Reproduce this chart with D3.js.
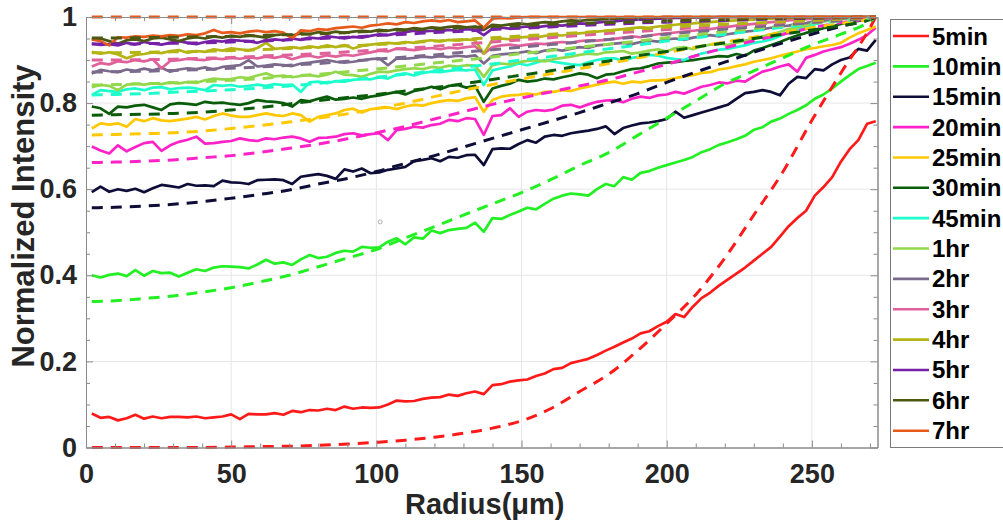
<!DOCTYPE html>
<html>
<head>
<meta charset="utf-8">
<script src="https://cdn.jsdelivr.net/npm/d3@7"></script>
<style>
  html, body { margin: 0; padding: 0; background: #fff; }
  svg { display: block; font-family: "Liberation Sans", Arial, sans-serif; }
</style>
</head>
<body>
<svg id="chart" width="1003" height="522"></svg>
<script>
// Radial sampling positions (µm) of the measured profiles
const radius = [2,5,8,11,14,17,20,23,26,29,32,35,38,41,44,47,50,53,56,59,62,65,68,71,74,77,80,83,86,89,
  92,95,98,101,104,107,110,113,116,119,122,125,128,131,134,137,140,143,146,149,152,155,158,161,164,167,170,173,176,179,
  182,185,188,191,194,197,200,203,206,209,212,215,218,221,224,227,230,233,236,239,242,245,248,251,254,257,260,263,266,269,272];

// Radial positions (µm) of the fitted model curves
const fitRadius = [2,10,20,30,40,50,60,70,80,90,100,110,120,130,140,150,160,170,180,190,200,210,220,230,240,250,260,270,272];

const seriesNames = ["5min","10min","15min","20min","25min","30min","45min","1hr","2hr","3hr","4hr","5hr","6hr","7hr"];
const seriesColors = ["#ff1a1a","#22f022","#0d0d38","#ff22c8","#ffc800","#0a5c0a","#1cffcc","#92d84a","#7c6a8c","#e0609a","#b4b414","#7620a8","#4c5712","#e85a1c"];

// Measured normalized intensity profiles
const m5min = [0.079,0.069,0.071,0.063,0.068,0.076,0.067,0.072,0.068,0.071,0.071,0.070,0.072,0.068,0.070,0.072,0.077,0.066,0.078,0.077,
  0.077,0.080,0.076,0.085,0.082,0.087,0.086,0.090,0.087,0.095,0.090,0.093,0.092,0.093,0.100,0.109,0.107,0.108,0.113,0.116,
  0.117,0.123,0.120,0.126,0.130,0.124,0.145,0.147,0.153,0.156,0.158,0.166,0.172,0.182,0.185,0.196,0.201,0.206,0.215,0.225,
  0.234,0.244,0.253,0.265,0.270,0.282,0.292,0.310,0.303,0.327,0.347,0.360,0.376,0.390,0.404,0.418,0.434,0.450,0.466,0.490,
  0.514,0.533,0.550,0.585,0.605,0.628,0.664,0.693,0.714,0.752,0.758];
const m10min = [0.400,0.395,0.401,0.404,0.398,0.412,0.399,0.410,0.405,0.406,0.397,0.406,0.414,0.410,0.418,0.421,0.420,0.419,0.416,0.425,
  0.436,0.427,0.430,0.424,0.437,0.447,0.440,0.443,0.452,0.457,0.455,0.466,0.464,0.465,0.478,0.486,0.472,0.488,0.485,0.504,
  0.498,0.505,0.508,0.510,0.522,0.501,0.533,0.531,0.540,0.548,0.557,0.553,0.566,0.578,0.585,0.590,0.588,0.585,0.600,0.612,
  0.607,0.628,0.622,0.638,0.642,0.650,0.656,0.662,0.668,0.675,0.686,0.693,0.703,0.709,0.716,0.724,0.738,0.744,0.757,0.764,
  0.775,0.784,0.795,0.810,0.820,0.834,0.850,0.865,0.879,0.886,0.894];
const m15min = [0.593,0.606,0.594,0.600,0.596,0.601,0.593,0.602,0.610,0.607,0.604,0.612,0.608,0.609,0.607,0.620,0.616,0.615,0.612,0.621,
  0.622,0.623,0.621,0.612,0.629,0.632,0.635,0.631,0.624,0.646,0.641,0.648,0.637,0.639,0.645,0.648,0.652,0.665,0.668,0.672,
  0.665,0.675,0.673,0.679,0.680,0.656,0.693,0.695,0.694,0.705,0.714,0.708,0.722,0.726,0.724,0.730,0.733,0.736,0.740,0.746,
  0.728,0.742,0.748,0.753,0.755,0.758,0.763,0.780,0.766,0.772,0.778,0.784,0.790,0.796,0.810,0.823,0.826,0.830,0.826,0.818,
  0.845,0.861,0.858,0.879,0.876,0.890,0.900,0.906,0.926,0.922,0.947];
const m20min = [0.699,0.690,0.683,0.702,0.688,0.698,0.707,0.710,0.689,0.702,0.710,0.715,0.722,0.706,0.707,0.710,0.712,0.718,0.714,0.712,
  0.718,0.716,0.720,0.722,0.718,0.710,0.719,0.720,0.722,0.728,0.730,0.725,0.728,0.730,0.714,0.737,0.740,0.745,0.743,0.749,
  0.752,0.761,0.758,0.765,0.763,0.726,0.770,0.772,0.788,0.768,0.780,0.784,0.782,0.785,0.794,0.796,0.790,0.797,0.803,0.806,
  0.807,0.802,0.810,0.815,0.812,0.818,0.820,0.826,0.822,0.830,0.838,0.842,0.848,0.846,0.852,0.850,0.862,0.873,0.878,0.885,
  0.890,0.873,0.905,0.912,0.920,0.925,0.930,0.938,0.947,0.958,0.975];
const m25min = [0.741,0.753,0.750,0.753,0.745,0.763,0.758,0.765,0.760,0.758,0.761,0.764,0.768,0.762,0.770,0.776,0.771,0.768,0.768,0.772,
  0.776,0.772,0.770,0.776,0.772,0.757,0.768,0.772,0.776,0.784,0.787,0.778,0.786,0.788,0.790,0.786,0.792,0.796,0.794,0.800,
  0.804,0.807,0.805,0.811,0.814,0.780,0.807,0.815,0.818,0.819,0.822,0.820,0.826,0.826,0.830,0.828,0.834,0.838,0.843,0.847,
  0.850,0.845,0.850,0.848,0.852,0.853,0.854,0.858,0.862,0.865,0.870,0.872,0.878,0.881,0.886,0.890,0.896,0.900,0.904,0.910,
  0.915,0.920,0.925,0.928,0.932,0.935,0.940,0.952,0.962,0.970,0.978];
const m30min = [0.792,0.788,0.775,0.792,0.790,0.794,0.796,0.790,0.784,0.797,0.800,0.798,0.796,0.803,0.800,0.801,0.798,0.796,0.800,0.807,
  0.804,0.803,0.800,0.792,0.807,0.804,0.810,0.815,0.808,0.810,0.813,0.810,0.815,0.818,0.822,0.826,0.820,0.828,0.832,0.838,
  0.832,0.840,0.842,0.836,0.840,0.803,0.834,0.840,0.845,0.854,0.850,0.852,0.857,0.855,0.860,0.864,0.869,0.866,0.858,0.866,
  0.868,0.874,0.879,0.881,0.886,0.892,0.894,0.895,0.898,0.900,0.903,0.906,0.909,0.908,0.914,0.910,0.922,0.928,0.935,0.942,
  0.950,0.957,0.963,0.968,0.974,0.978,0.984,0.988,0.991,0.994,0.997];
const m45min = [0.819,0.830,0.828,0.826,0.832,0.834,0.830,0.836,0.837,0.832,0.835,0.836,0.834,0.830,0.842,0.840,0.842,0.838,0.840,0.843,
  0.840,0.844,0.842,0.843,0.826,0.848,0.850,0.846,0.851,0.850,0.854,0.856,0.855,0.860,0.857,0.866,0.869,0.864,0.870,0.873,
  0.872,0.875,0.877,0.876,0.878,0.842,0.876,0.881,0.885,0.892,0.888,0.894,0.900,0.896,0.893,0.890,0.888,0.895,0.900,0.904,
  0.904,0.898,0.905,0.908,0.912,0.910,0.905,0.902,0.900,0.908,0.915,0.920,0.924,0.926,0.930,0.934,0.940,0.943,0.948,0.956,
  0.965,0.972,0.978,0.983,0.990,0.993,0.996,0.997,0.998,0.999,1.000];
const m1hr = [0.837,0.842,0.840,0.830,0.843,0.845,0.843,0.846,0.844,0.848,0.846,0.849,0.847,0.853,0.857,0.855,0.856,0.860,0.858,0.864,
  0.869,0.862,0.864,0.860,0.863,0.865,0.862,0.866,0.873,0.866,0.865,0.861,0.868,0.873,0.872,0.876,0.879,0.881,0.879,0.884,
  0.882,0.887,0.885,0.888,0.887,0.861,0.888,0.892,0.890,0.895,0.898,0.900,0.897,0.902,0.905,0.908,0.912,0.915,0.913,0.918,
  0.919,0.921,0.915,0.918,0.922,0.925,0.920,0.928,0.930,0.925,0.932,0.936,0.938,0.935,0.940,0.945,0.950,0.955,0.960,0.965,
  0.972,0.976,0.981,0.985,0.990,0.993,0.996,0.998,0.999,0.999,1.000];
const m2hr = [0.869,0.877,0.874,0.872,0.878,0.875,0.880,0.876,0.882,0.873,0.878,0.881,0.879,0.883,0.878,0.884,0.886,0.888,0.900,0.885,
  0.887,0.890,0.888,0.886,0.892,0.894,0.897,0.900,0.896,0.894,0.896,0.899,0.902,0.904,0.888,0.904,0.903,0.905,0.908,0.906,
  0.909,0.907,0.910,0.908,0.911,0.892,0.910,0.913,0.915,0.917,0.920,0.916,0.922,0.925,0.922,0.926,0.930,0.928,0.934,0.936,
  0.938,0.940,0.937,0.942,0.945,0.943,0.948,0.950,0.947,0.952,0.955,0.958,0.955,0.960,0.963,0.966,0.968,0.972,0.975,0.978,
  0.980,0.984,0.986,0.990,0.992,0.995,0.997,0.998,0.999,0.999,1.000];
const m3hr = [0.885,0.893,0.890,0.897,0.895,0.900,0.897,0.902,0.881,0.898,0.900,0.903,0.901,0.900,0.904,0.902,0.905,0.903,0.906,0.904,
  0.908,0.905,0.909,0.902,0.908,0.910,0.906,0.911,0.908,0.912,0.910,0.914,0.918,0.922,0.920,0.927,0.925,0.923,0.926,0.928,
  0.925,0.929,0.927,0.930,0.932,0.915,0.930,0.934,0.936,0.933,0.936,0.938,0.937,0.940,0.942,0.940,0.944,0.946,0.945,0.947,
  0.949,0.952,0.955,0.953,0.957,0.960,0.962,0.964,0.966,0.968,0.970,0.972,0.975,0.977,0.980,0.982,0.984,0.986,0.988,0.990,
  0.992,0.994,0.995,0.996,0.997,0.998,0.999,0.999,1.000,1.000,1.000];
const m4hr = [0.919,0.915,0.918,0.913,0.904,0.912,0.914,0.918,0.916,0.921,0.923,0.917,0.921,0.919,0.925,0.922,0.927,0.925,0.922,0.928,
  0.940,0.926,0.928,0.930,0.927,0.932,0.929,0.934,0.930,0.935,0.927,0.933,0.936,0.938,0.940,0.938,0.942,0.940,0.944,0.946,
  0.943,0.947,0.945,0.948,0.946,0.915,0.948,0.950,0.948,0.952,0.954,0.952,0.956,0.958,0.957,0.960,0.962,0.964,0.966,0.968,
  0.970,0.972,0.974,0.976,0.975,0.978,0.980,0.982,0.984,0.985,0.987,0.988,0.990,0.991,0.992,0.993,0.994,0.995,0.996,0.997,
  0.998,0.998,0.999,0.999,1.000,1.000,1.000,1.000,1.000,1.000,1.000];
const m5hr = [0.938,0.935,0.937,0.934,0.940,0.936,0.942,0.938,0.936,0.940,0.944,0.940,0.937,0.942,0.945,0.943,0.947,0.945,0.944,0.940,
  0.946,0.948,0.946,0.950,0.947,0.952,0.950,0.955,0.953,0.950,0.954,0.952,0.956,0.960,0.958,0.962,0.965,0.968,0.966,0.968,
  0.967,0.970,0.968,0.972,0.970,0.958,0.973,0.975,0.973,0.976,0.978,0.976,0.979,0.981,0.980,0.983,0.985,0.984,0.987,0.989,
  0.990,0.992,0.993,0.994,0.995,0.996,0.997,0.998,0.998,0.999,0.999,0.999,1.000,1.000,1.000,1.000,1.000,1.000,1.000,1.000,
  1.000,1.000,1.000,1.000,1.000,1.000,1.000,1.000,1.000,1.000,1.000];
const m6hr = [0.948,0.950,0.944,0.938,0.946,0.948,0.944,0.950,0.952,0.948,0.944,0.950,0.953,0.950,0.955,0.952,0.956,0.954,0.958,0.955,
  0.952,0.958,0.960,0.957,0.962,0.960,0.965,0.962,0.966,0.963,0.966,0.968,0.966,0.970,0.968,0.972,0.970,0.974,0.972,0.976,
  0.974,0.977,0.979,0.976,0.978,0.970,0.982,0.980,0.983,0.985,0.983,0.986,0.988,0.987,0.990,0.992,0.991,0.993,0.994,0.995,
  0.996,0.997,0.998,0.998,0.999,0.999,1.000,1.000,1.000,1.000,1.000,1.000,1.000,1.000,1.000,1.000,1.000,1.000,1.000,1.000,
  1.000,1.000,1.000,1.000,1.000,1.000,1.000,1.000,1.000,1.000,1.000];
const m7hr = [0.948,0.944,0.934,0.953,0.952,0.955,0.954,0.957,0.955,0.958,0.956,0.960,0.958,0.962,0.970,0.963,0.965,0.962,0.966,0.968,
  0.965,0.967,0.964,0.950,0.969,0.967,0.972,0.970,0.974,0.976,0.978,0.975,0.980,0.982,0.985,0.983,0.988,0.986,0.990,0.992,
  0.990,0.993,0.988,0.990,0.992,0.975,0.996,0.998,0.997,0.999,1.000,1.000,1.000,1.000,1.000,1.000,1.000,1.000,1.000,1.000,
  1.000,1.000,1.000,1.000,1.000,1.000,1.000,1.000,1.000,1.000,1.000,1.000,1.000,1.000,1.000,1.000,1.000,1.000,1.000,1.000,
  1.000,1.000,1.000,1.000,1.000,1.000,1.000,1.000,1.000,1.000,1.000];

// Fitted model curves (dashed)
const f5min = [0.000,0.000,0.000,0.000,0.000,0.001,0.002,0.003,0.005,0.008,0.012,0.017,0.024,0.033,0.045,0.062,0.090,0.130,0.170,0.225,0.288,0.355,0.440,0.540,0.640,0.760,0.870,0.975,1.000];
const f10min = [0.339,0.341,0.346,0.352,0.361,0.371,0.385,0.400,0.420,0.440,0.460,0.487,0.513,0.540,0.566,0.592,0.622,0.655,0.685,0.725,0.765,0.805,0.845,0.875,0.905,0.935,0.960,0.990,1.000];
const f15min = [0.557,0.558,0.561,0.565,0.571,0.579,0.588,0.598,0.612,0.625,0.641,0.660,0.678,0.698,0.718,0.738,0.758,0.778,0.800,0.822,0.848,0.872,0.895,0.918,0.940,0.960,0.978,0.995,1.000];
const f20min = [0.662,0.663,0.665,0.668,0.673,0.678,0.686,0.695,0.705,0.717,0.731,0.746,0.763,0.780,0.797,0.812,0.826,0.840,0.854,0.872,0.890,0.910,0.928,0.945,0.960,0.975,0.987,0.997,1.000];
const f25min = [0.726,0.727,0.729,0.731,0.735,0.741,0.748,0.756,0.765,0.775,0.787,0.800,0.815,0.830,0.843,0.856,0.868,0.880,0.892,0.905,0.917,0.930,0.942,0.953,0.964,0.975,0.985,0.996,1.000];
const f30min = [0.772,0.773,0.774,0.776,0.779,0.784,0.790,0.798,0.806,0.813,0.820,0.828,0.836,0.845,0.855,0.865,0.875,0.887,0.898,0.910,0.920,0.930,0.940,0.950,0.960,0.970,0.980,0.994,1.000];
const f45min = [0.819,0.820,0.822,0.825,0.828,0.831,0.835,0.840,0.846,0.853,0.860,0.867,0.875,0.883,0.891,0.900,0.908,0.917,0.926,0.935,0.944,0.952,0.960,0.968,0.976,0.984,0.991,0.998,1.000];
const f1hr = [0.842,0.843,0.845,0.847,0.850,0.853,0.857,0.862,0.867,0.873,0.879,0.886,0.893,0.900,0.907,0.915,0.922,0.930,0.937,0.944,0.952,0.959,0.966,0.973,0.980,0.986,0.992,0.998,1.000];
const f2hr = [0.872,0.873,0.874,0.876,0.878,0.881,0.884,0.888,0.892,0.897,0.902,0.907,0.912,0.918,0.924,0.930,0.936,0.942,0.948,0.954,0.960,0.966,0.972,0.977,0.982,0.987,0.992,0.998,1.000];
const f3hr = [0.900,0.900,0.901,0.902,0.904,0.906,0.909,0.912,0.915,0.919,0.923,0.927,0.932,0.937,0.942,0.947,0.952,0.957,0.962,0.966,0.971,0.975,0.979,0.983,0.987,0.991,0.995,0.999,1.000];
const f4hr = [0.917,0.917,0.918,0.919,0.920,0.922,0.924,0.927,0.930,0.933,0.936,0.940,0.944,0.948,0.952,0.956,0.960,0.964,0.968,0.972,0.976,0.980,0.983,0.986,0.989,0.992,0.995,0.999,1.000];
const f5hr = [0.937,0.937,0.938,0.939,0.940,0.942,0.944,0.947,0.950,0.953,0.957,0.960,0.964,0.967,0.971,0.974,0.977,0.980,0.983,0.986,0.988,0.990,0.992,0.994,0.996,0.997,0.998,0.999,1.000];
const f6hr = [0.951,0.951,0.952,0.953,0.954,0.955,0.957,0.959,0.961,0.964,0.967,0.970,0.972,0.975,0.978,0.980,0.983,0.985,0.987,0.989,0.991,0.993,0.994,0.996,0.997,0.998,0.999,1.000,1.000];
const f7hr = [1,1,1,1,1,1,1,1,1,1,1,1,1,1,1,1,1,1,1,1,1,1,1,1,1,1,1,1,1];

const measured = [m5min,m10min,m15min,m20min,m25min,m30min,m45min,m1hr,m2hr,m3hr,m4hr,m5hr,m6hr,m7hr];
const fitted = [f5min,f10min,f15min,f20min,f25min,f30min,f45min,f1hr,f2hr,f3hr,f4hr,f5hr,f6hr,f7hr];

const xTicks = [0,50,100,150,200,250];
const yTicks = [0,0.2,0.4,0.6,0.8,1];
const yTickLabels = ["0","0.2","0.4","0.6","0.8","1"];
const xMinor = [10,20,30,40,60,70,80,90,110,120,130,140,160,170,180,190,210,220,230,240,260,270];
const yMinor = [0.05,0.1,0.15,0.25,0.3,0.35,0.45,0.5,0.55,0.65,0.7,0.75,0.85,0.9,0.95];
const strayMarker = [[101.3, 0.524]];

// Layout
const L = 86, R = 877.5, T = 17, B = 447.5;
const svg = d3.select("#chart");
const x = d3.scaleLinear().domain([0, 272.6]).range([L, R]);
const y = d3.scaleLinear().domain([0, 1]).range([B, T]);
const axisGrey = "#8a8a8a";
const textDark = "#262626";

// Grid
const grid = svg.append("g");
grid.selectAll("line.gx").data(xTicks.slice(1)).join("line")
  .attr("x1", d => x(d)).attr("x2", d => x(d)).attr("y1", T).attr("y2", B)
  .attr("stroke", "#e6e6e6").attr("stroke-width", 1);
grid.selectAll("line.gy").data(yTicks.slice(1, -1)).join("line")
  .attr("x1", L).attr("x2", R).attr("y1", d => y(d)).attr("y2", d => y(d))
  .attr("stroke", "#e6e6e6").attr("stroke-width", 1);

// Clip region (slightly padded so lines at the limit keep full width)
svg.append("clipPath").attr("id", "plotClip").append("rect")
  .attr("x", L).attr("y", T - 3).attr("width", R - L).attr("height", B - T + 6);

const plot = svg.append("g").attr("clip-path", "url(#plotClip)");
const lineMeasured = d3.line().x((d, i) => x(radius[i])).y(d => y(d));
const lineFit = d3.line().x((d, i) => x(fitRadius[i])).y(d => y(d)).curve(d3.curveMonotoneX);

measured.forEach((s, k) => {
  plot.append("path").datum(s).attr("d", lineMeasured)
    .attr("fill", "none").attr("stroke", seriesColors[k]).attr("stroke-width", 2.7)
    .attr("stroke-linejoin", "round");
});
fitted.forEach((s, k) => {
  plot.append("path").datum(s).attr("d", lineFit)
    .attr("fill", "none").attr("stroke", seriesColors[k]).attr("stroke-width", 3)
    .attr("stroke-dasharray", "11,8");
});

plot.selectAll("circle.stray").data(strayMarker).join("circle")
  .attr("cx", d => x(d[0])).attr("cy", d => y(d[1])).attr("r", 2)
  .attr("fill", "none").attr("stroke", "#9a9aa8").attr("stroke-width", 0.8);

// Axes with inward ticks on all four sides
function styleAxis(g) {
  g.select(".domain").attr("stroke", axisGrey).attr("stroke-width", 1);
  g.selectAll(".tick line").attr("stroke", axisGrey).attr("stroke-width", 1);
}
const fmtNone = () => "";

svg.append("g").attr("transform", `translate(0,${B})`)
  .call(d3.axisBottom(x).tickValues(xMinor).tickSizeInner(-4).tickSizeOuter(0).tickFormat(fmtNone)).call(styleAxis);
svg.append("g").attr("transform", `translate(0,${T})`)
  .call(d3.axisTop(x).tickValues(xMinor).tickSizeInner(-4).tickSizeOuter(0).tickFormat(fmtNone)).call(styleAxis);
svg.append("g").attr("transform", `translate(${L},0)`)
  .call(d3.axisLeft(y).tickValues(yMinor).tickSizeInner(-4).tickSizeOuter(0).tickFormat(fmtNone)).call(styleAxis);
svg.append("g").attr("transform", `translate(${R},0)`)
  .call(d3.axisRight(y).tickValues(yMinor).tickSizeInner(-4).tickSizeOuter(0).tickFormat(fmtNone)).call(styleAxis);

svg.append("g").attr("transform", `translate(0,${T})`)
  .call(d3.axisTop(x).tickValues(xTicks).tickSizeInner(-7).tickSizeOuter(0).tickFormat(fmtNone)).call(styleAxis);
svg.append("g").attr("transform", `translate(${R},0)`)
  .call(d3.axisRight(y).tickValues(yTicks).tickSizeInner(-7).tickSizeOuter(0).tickFormat(fmtNone)).call(styleAxis);

const xAxis = svg.append("g").attr("transform", `translate(0,${B})`)
  .call(d3.axisBottom(x).tickValues(xTicks).tickSizeInner(-7).tickSizeOuter(0).tickPadding(16).tickFormat(d3.format("d")))
  .call(styleAxis);
xAxis.selectAll(".tick text").attr("fill", textDark).attr("font-size", 27).attr("font-weight", "bold")
  .attr("font-family", "'Liberation Sans', Arial, sans-serif");

const yAxis = svg.append("g").attr("transform", `translate(${L},0)`)
  .call(d3.axisLeft(y).tickValues(yTicks).tickSizeInner(-7).tickSizeOuter(0).tickPadding(9)
    .tickFormat((d, i) => yTickLabels[i]))
  .call(styleAxis);
yAxis.selectAll(".tick text").attr("fill", textDark).attr("font-size", 27).attr("font-weight", "bold")
  .attr("font-family", "'Liberation Sans', Arial, sans-serif");

// Axis titles
svg.append("text").attr("x", (L + R) / 2 + 3).attr("y", 514).attr("text-anchor", "middle")
  .attr("font-size", 29).attr("font-weight", "bold").attr("fill", textDark).text("Radius(μm)");
svg.append("text").attr("transform", "translate(34,216) rotate(-90)").attr("text-anchor", "middle")
  .attr("font-size", 31).attr("font-weight", "bold").attr("fill", textDark).text("Normalized Intensity");

// Legend
const legend = svg.append("g");
legend.append("rect").attr("x", 890.5).attr("y", 19.5).attr("width", 140).attr("height", 428)
  .attr("fill", "#fff").attr("stroke", "#7a7a7a").attr("stroke-width", 1);
const rowY = i => 36 + i * 30.36;
const items = legend.selectAll("g.item").data(seriesNames).join("g");
items.append("line").attr("x1", 893).attr("x2", 929).attr("y1", (d, i) => rowY(i)).attr("y2", (d, i) => rowY(i))
  .attr("stroke", (d, i) => seriesColors[i]).attr("stroke-width", 2.6);
items.append("text").attr("x", 932).attr("y", (d, i) => rowY(i) + 8.5)
  .attr("font-size", 24).attr("font-weight", "bold").attr("fill", "#000").text(d => d);
</script>
</body>
</html>
